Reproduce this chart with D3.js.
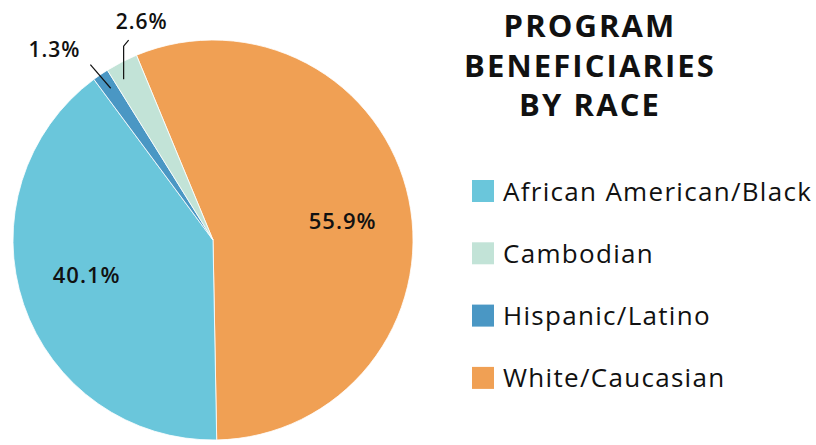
<!doctype html>
<html>
<head>
<meta charset="utf-8">
<script src="https://d3js.org/d3.v7.min.js"></script>
<style>
  body { margin: 0; background: #fff; }
  text { font-family: "Open Sans", Lato, sans-serif; fill: #111; }
</style>
</head>
<body>
<div id="chart"></div>
<script>
// data, in the legend's order
var categories = ["African American/Black", "Cambodian", "Hispanic/Latino", "White/Caucasian"];
var shares = [40.1, 2.6, 1.3, 55.9];
var colors = ["#6ac6db", "#c2e3d7", "#4a97c4", "#f0a054"];
// order the slices run clockwise round the pie
var sliceOrder = ["White/Caucasian", "African American/Black", "Hispanic/Latino", "Cambodian"];
var titleLines = ["PROGRAM", "BENEFICIARIES", "BY RACE"];

var width = 816, height = 445;
var cx = 213, cy = 240, radius = 200;

var svg = d3.select("#chart").append("svg")
    .attr("width", width)
    .attr("height", height);

var rows = categories.map(function(c, i) {
    return {name: c, value: shares[i], color: colors[i]};
});
var pieRows = sliceOrder.map(function(n) {
    return rows.find(function(r) { return r.name === n; });
});

var startDeg = -22.5;
var pie = d3.pie()
    .sort(null)
    .value(function(d) { return d.value; })
    .startAngle(startDeg * Math.PI / 180)
    .endAngle((startDeg + 360) * Math.PI / 180);

var arc = d3.arc().innerRadius(0).outerRadius(radius);

var g = svg.append("g").attr("transform", "translate(" + cx + "," + cy + ")");
var arcs = pie(pieRows);

g.selectAll("path")
    .data(arcs)
    .enter().append("path")
    .attr("d", arc)
    .attr("fill", function(d) { return d.data.color; })
    .attr("stroke", "#fff")
    .attr("stroke-width", 0.8);

// point at radius r, at fraction t across slice d (plus a small turn in degrees)
function pt(d, t, r, turn) {
    var a = d.startAngle + (d.endAngle - d.startAngle) * t + (turn || 0) * Math.PI / 180;
    return [r * Math.sin(a), -r * Math.cos(a)];
}

// big slices: label inside
g.selectAll("text.inside")
    .data(arcs.filter(function(d) { return d.data.value > 10; }))
    .enter().append("text")
    .attr("class", "inside")
    .attr("transform", function(d) { return "translate(" + pt(d, 0.5, radius * 0.655, 3.5) + ")"; })
    .attr("text-anchor", "middle")
    .attr("dy", "0.36em")
    .style("font-size", "22px")
    .style("font-weight", 600)
    .style("letter-spacing", "1px")
    .text(function(d) { return d.data.value.toFixed(1) + "%"; });

// small slices: leader lines out to labels
var small = arcs.filter(function(d) { return d.data.value < 10; });
small.forEach(function(d) {
    var lbl = d.data.value.toFixed(1) + "%";
    if (d.data.name === "Cambodian") {
        var p1 = pt(d, 0.3, radius * 0.92);
        var p2 = [p1[0], p1[1] - 33];
        var p3 = [p2[0] + 5, p2[1] - 6];
        g.append("path")
            .attr("d", d3.line()([p1, p2, p3]))
            .attr("fill", "none").attr("stroke", "#111").attr("stroke-width", 1.2);
        g.append("text")
            .attr("x", p1[0] - 8).attr("y", p3[1] - 11)
            .style("font-size", "21px").style("font-weight", 600)
            .style("letter-spacing", "1px")
            .text(lbl);
    } else {
        var q1 = pt(d, 0.55, radius * 0.915);
        var q2 = pt(d, 0.34, radius * 1.07);
        g.append("path")
            .attr("d", d3.line()([q1, q2]))
            .attr("fill", "none").attr("stroke", "#111").attr("stroke-width", 1.2);
        g.append("text")
            .attr("x", q2[0] - 10).attr("y", q2[1] - 8)
            .attr("text-anchor", "end")
            .style("font-size", "21px").style("font-weight", 600)
            .style("letter-spacing", "1px")
            .text(lbl);
    }
});

// title
svg.append("g").selectAll("text")
    .data(titleLines)
    .enter().append("text")
    .attr("x", 590)
    .attr("y", function(d, i) { return 37 + i * 39.5; })
    .attr("text-anchor", "middle")
    .style("font-size", "31px")
    .style("font-weight", 700)
    .style("letter-spacing", "2.1px")
    .text(function(d) { return d; });

// legend
var legend = svg.append("g").attr("transform", "translate(472,180)");
var item = legend.selectAll("g")
    .data(rows)
    .enter().append("g")
    .attr("transform", function(d, i) { return "translate(0," + i * 62.3 + ")"; });
item.append("rect")
    .attr("width", 22).attr("height", 22)
    .attr("fill", function(d) { return d.color; });
item.append("text")
    .attr("x", 31).attr("y", 20.5)
    .style("font-size", "26px")
    .style("font-weight", 500)
    .style("letter-spacing", "1.3px")
    .text(function(d) { return d.name; });
</script>
</body>
</html>
